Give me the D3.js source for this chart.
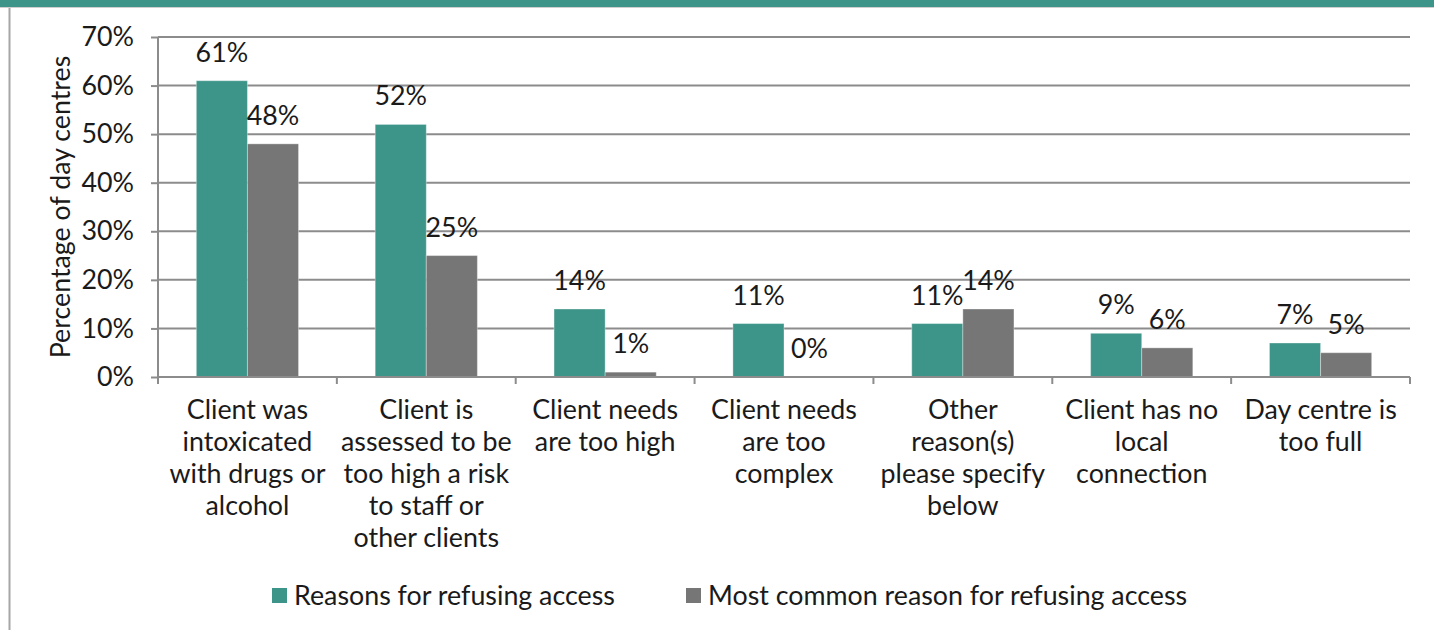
<!DOCTYPE html>
<html>
<head>
<meta charset="utf-8">
<script src="https://cdn.jsdelivr.net/npm/d3@7"></script>
<style>
  html, body { margin: 0; padding: 0; background: #fff; }
  svg { display: block; font-family: "Lato", "Open Sans", sans-serif; }
</style>
</head>
<body>
<svg id="chart" width="1434" height="630"></svg>
<script>
// Reasons day centres give for refusing access
const categories = [
  ["Client was", "intoxicated", "with drugs or", "alcohol"],
  ["Client is", "assessed to be", "too high a risk", "to staff or", "other clients"],
  ["Client needs", "are too high"],
  ["Client needs", "are too", "complex"],
  ["Other", "reason(s)", "please specify", "below"],
  ["Client has no", "local", "connection"],
  ["Day centre is", "too full"]
];
const reasonsForRefusing = [61, 52, 14, 11, 11, 9, 7];
const mostCommonReason = [48, 25, 1, 0, 14, 6, 5];
const seriesNames = ["Reasons for refusing access", "Most common reason for refusing access"];
const yTicks = [0, 10, 20, 30, 40, 50, 60, 70];

const colors = ["#3d9488", "#767676"];
const gridColor = "#8c8c8c";
const textColor = "#1a1a1a";
const fontSize = 26.8;

const svg = d3.select("#chart");
const W = 1434, H = 630;
const margin = { left: 158, right: 24, top: 37, bottom: 253 };
const plotW = W - margin.left - margin.right;
const plotH = H - margin.top - margin.bottom;

// Frame: teal band along the top and a thin border on the left
svg.append("rect").attr("x", 0).attr("y", 0).attr("width", W).attr("height", 7).attr("fill", "#3d9488");
svg.append("line").attr("x1", 0).attr("x2", W).attr("y1", 7.5).attr("y2", 7.5)
  .attr("stroke", "#cfcfcf").attr("stroke-width", 1);
svg.append("line").attr("x1", 9.5).attr("x2", 9.5).attr("y1", 8).attr("y2", H)
  .attr("stroke", "#a6a6a6").attr("stroke-width", 2);

const g = svg.append("g").attr("transform", `translate(${margin.left},${margin.top})`);

const x0 = d3.scaleBand().domain(d3.range(categories.length)).range([0, plotW]).paddingInner(0).paddingOuter(0);
const x1 = d3.scaleBand().domain([0, 1]).range([0, x0.bandwidth()]).paddingOuter(0.75).paddingInner(0);
const y = d3.scaleLinear().domain([0, 70]).range([plotH, 0]);

// Horizontal gridlines
g.append("g").selectAll("line").data(yTicks.filter(t => t > 0)).join("line")
  .attr("x1", 0).attr("x2", plotW)
  .attr("y1", d => y(d)).attr("y2", d => y(d))
  .attr("stroke", gridColor).attr("stroke-width", 2);

// Bars and value labels
const series = [reasonsForRefusing, mostCommonReason];
series.forEach((vals, si) => {
  g.append("g").selectAll("rect").data(vals).join("rect")
    .attr("x", (d, i) => x0(i) + x1(si))
    .attr("width", x1.bandwidth())
    .attr("y", d => y(d))
    .attr("height", d => plotH - y(d))
    .attr("fill", colors[si])
    .attr("stroke", "#ffffff").attr("stroke-opacity", 0.35).attr("stroke-width", 1);
  g.append("g").selectAll("text").data(vals).join("text")
    .attr("x", (d, i) => x0(i) + x1(si) + x1.bandwidth() / 2)
    .attr("y", d => y(d) - 19)
    .attr("text-anchor", "middle")
    .attr("font-size", fontSize)
    .attr("fill", textColor)
    .text(d => d + "%");
});

// Y axis
const yAxis = g.append("g").call(d3.axisLeft(y).tickValues(yTicks).tickSize(7).tickPadding(17).tickFormat(d => d + "%"));
yAxis.select(".domain").attr("stroke", gridColor).attr("stroke-width", 2).attr("d", `M0,${plotH + 7}V0`);
yAxis.selectAll(".tick line").attr("stroke", gridColor).attr("stroke-width", 2);
yAxis.selectAll(".tick text").attr("font-size", fontSize).attr("fill", textColor)
  .attr("font-family", "Lato, sans-serif");

// X axis with category separators
g.append("line").attr("x1", 0).attr("x2", plotW).attr("y1", plotH).attr("y2", plotH)
  .attr("stroke", gridColor).attr("stroke-width", 2);
g.append("g").selectAll("line").data(d3.range(categories.length + 1)).join("line")
  .attr("x1", i => i * x0.step()).attr("x2", i => i * x0.step())
  .attr("y1", plotH).attr("y2", plotH + 7)
  .attr("stroke", gridColor).attr("stroke-width", 2);

// Category labels
const lab = g.append("g").selectAll("text").data(categories).join("text")
  .attr("text-anchor", "middle")
  .attr("font-size", fontSize)
  .attr("fill", textColor)
  .attr("transform", (d, i) => `translate(${x0(i) + x0.bandwidth() / 2},${plotH + 42})`);
lab.selectAll("tspan").data(d => d).join("tspan")
  .attr("x", 0).attr("dy", (d, j) => j === 0 ? 0 : 32).text(d => d);

// Y axis title
svg.append("text")
  .attr("transform", `translate(70,${margin.top + plotH / 2}) rotate(-90)`)
  .attr("text-anchor", "middle")
  .attr("font-size", fontSize)
  .attr("fill", textColor)
  .text("Percentage of day centres");

// Legend
const legendX = [272, 686];
const legend = svg.append("g");
seriesNames.forEach((name, i) => {
  legend.append("rect").attr("x", legendX[i]).attr("y", 588).attr("width", 15).attr("height", 15).attr("fill", colors[i]);
  legend.append("text").attr("x", legendX[i] + 22).attr("y", 605)
    .attr("font-size", fontSize).attr("fill", textColor).text(name);
});
</script>
</body>
</html>
